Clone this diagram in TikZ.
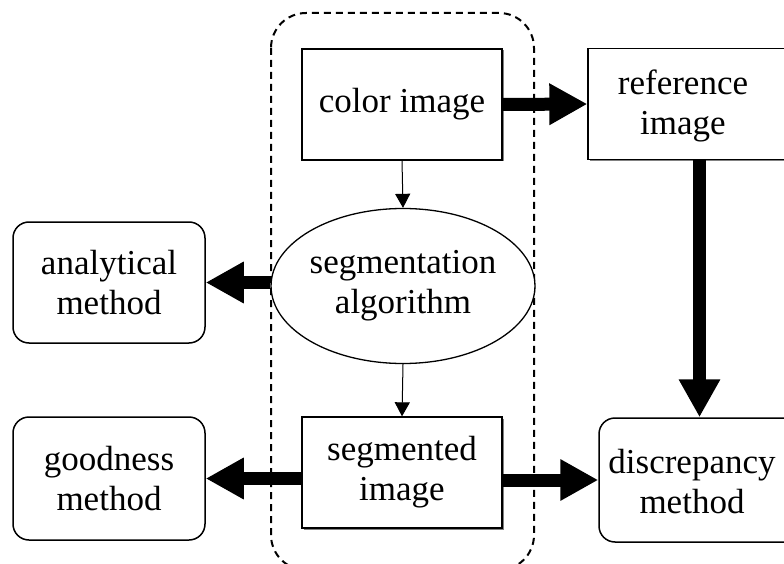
\documentclass[tikz,border=0pt]{standalone}
\usepackage{fontspec}
\newfontfamily\timesfont{Liberation Serif}
\usetikzlibrary{arrows.meta,shapes.geometric,shadows}
\begin{document}
\begin{tikzpicture}[x=1pt,y=-1pt,
  txt/.style={font=\timesfont\fontsize{35}{40}\selectfont, align=center, inner sep=0pt},
  sqbox/.style={draw, line width=1.3pt, fill=white, inner sep=0pt,
    drop shadow={shadow xshift=1.5pt, shadow yshift=-1.5pt, opacity=0.7, fill=black!70}},
  rbox/.style={draw, line width=1.5pt, rounded corners=16pt, fill=white, inner sep=0pt},
  ellbox/.style={draw, ellipse, line width=1.3pt, fill=white, inner sep=0pt, minimum width=220pt, minimum height=155pt},
  bigarrow/.style={line width=13pt, -{Triangle[length=38pt,width=39pt]}},
  thinarrow/.style={line width=1pt, -{Triangle[length=14pt,width=15pt]}},
  grouping/.style={draw, dashed, dash pattern=on 7pt off 5pt, line width=2pt, rounded corners=35pt}
]
\clip (0,0) rectangle (784,564);
\fill[white] (0,0) rectangle (784,564);

% dashed grouping frame
\draw[grouping] (271,13) rectangle (534,570);

% nodes
\node[sqbox, txt, minimum width=200pt, minimum height=111pt] (color) at (402,104.5) {color image};
\node[sqbox, minimum width=212pt, minimum height=111pt] (ref) at (694,104) {};
\node[txt] (reftxt) at (683,106) {reference\\image};
\node[ellbox, txt] (ell) at (403,286) {segmentation\\algorithm};
\node[sqbox, txt, minimum width=200pt, minimum height=111pt] (seg) at (402,472.5) {segmented\\image};
\node[rbox, txt, minimum width=192pt, minimum height=121pt] (ana) at (109,282.5) {analytical\\method};
\node[rbox, txt, minimum width=192pt, minimum height=123pt] (good) at (109,478.5) {goodness\\method};
\node[rbox, minimum width=201pt, minimum height=124pt] (disc) at (699.5,480) {};
\node[txt] (disctxt) at (692,482) {discrepancy\\method};

% connectors
\draw[thinarrow] (color.south) -- (ell.north);
\draw[thinarrow] (ell.south) -- (seg.north);
\draw[bigarrow] (color.east) -- (ref.west);
\draw[bigarrow] (ref.south -| disc.north) -- (disc.north);
\draw[bigarrow] (ell.west |- ana.east) -- (ana.east);
\draw[bigarrow] (seg.west |- good.east) -- (good.east);
\draw[bigarrow] (seg.east |- disc.west) -- (disc.west);
\end{tikzpicture}
\end{document}
